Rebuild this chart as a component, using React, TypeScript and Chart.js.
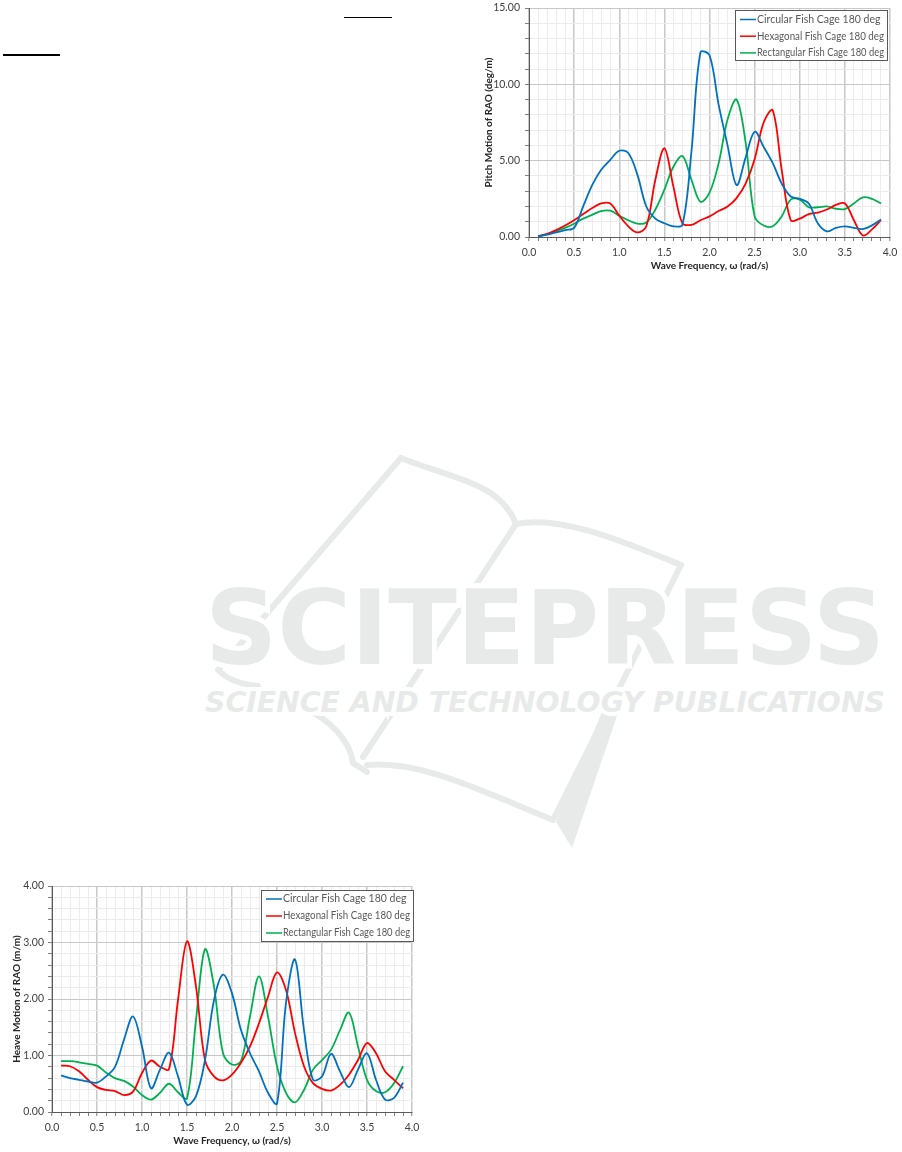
import React, { useEffect, useRef } from "react";
import { Chart, registerables } from "chart.js";

Chart.register(...registerables);

// ---------------- DATA ----------------
const freq = [
  0.1, 0.2, 0.3, 0.4, 0.5, 0.6, 0.7, 0.8, 0.9, 1.0,
  1.1, 1.2, 1.3, 1.4, 1.5, 1.6, 1.7, 1.8, 1.9, 2.0,
  2.1, 2.2, 2.3, 2.4, 2.5, 2.6, 2.7, 2.8, 2.9, 3.0,
  3.1, 3.2, 3.3, 3.4, 3.5, 3.6, 3.7, 3.8, 3.9,
];

const seriesLabels = [
  "Circular Fish Cage 180 deg",
  "Hexagonal Fish Cage 180 deg",
  "Rectangular Fish Cage 180 deg",
];

// Pitch motion RAO (deg/m)
const pitchCircular = [
  0.05, 0.15, 0.3, 0.45, 0.6, 2.0, 3.4, 4.4, 5.05, 5.65,
  5.5, 4.1, 2.0, 1.2, 0.9, 0.7, 0.8, 5.6, 12.1, 11.9,
  8.7, 6.0, 3.4, 5.2, 6.9, 5.9, 4.85, 3.5, 2.65, 2.5,
  2.2, 0.9, 0.37, 0.6, 0.7, 0.6, 0.52, 0.76, 1.15,
];
const pitchHexagonal = [
  0.05, 0.2, 0.45, 0.75, 1.1, 1.5, 1.9, 2.2, 2.2, 1.4,
  0.7, 0.3, 0.7, 3.75, 5.8, 3.3, 0.9, 0.8, 1.1, 1.35,
  1.7, 2.0, 2.55, 3.5, 5.1, 7.5, 8.3, 4.4, 1.1, 1.2,
  1.5, 1.6, 1.8, 2.1, 2.2, 1.1, 0.1, 0.5, 1.1,
];
const pitchRectangular = [
  0.05, 0.18, 0.38, 0.6, 0.87, 1.2, 1.45, 1.7, 1.72, 1.4,
  1.1, 0.87, 0.95, 1.8, 3.1, 4.6, 5.3, 3.75, 2.3, 2.9,
  4.8, 7.7, 9.0, 6.2, 1.35, 0.75, 0.7, 1.35, 2.45, 2.45,
  1.95, 1.95, 2.0, 1.85, 1.83, 2.2, 2.6, 2.5, 2.2,
];

// Heave motion RAO (m/m)
const heaveCircular = [
  0.65, 0.6, 0.57, 0.54, 0.52, 0.63, 0.8, 1.28, 1.69, 1.16,
  0.42, 0.75, 1.05, 0.63, 0.13, 0.28, 0.92, 1.98, 2.43, 2.1,
  1.45, 1.04, 0.72, 0.34, 0.15, 1.93, 2.7, 1.45, 0.57, 0.63,
  1.03, 0.72, 0.44, 0.75, 1.04, 0.57, 0.22, 0.25, 0.52,
];
const heaveHexagonal = [
  0.82, 0.81, 0.72, 0.57, 0.44, 0.39, 0.37, 0.3, 0.36, 0.69,
  0.91, 0.8, 0.76, 1.98, 3.02, 2.22, 0.92, 0.63, 0.56, 0.66,
  0.87, 1.16, 1.57, 2.04, 2.47, 2.16, 1.4, 0.81, 0.51, 0.41,
  0.38, 0.48, 0.66, 0.92, 1.22, 1.04, 0.72, 0.57, 0.42,
];
const heaveRectangular = [
  0.9, 0.9, 0.88, 0.85, 0.82, 0.7, 0.6, 0.55, 0.45, 0.3,
  0.22, 0.34, 0.5, 0.35, 0.24, 1.63, 2.88, 2.22, 1.04, 0.84,
  0.9, 1.69, 2.4, 1.69, 0.81, 0.34, 0.17, 0.39, 0.75, 0.92,
  1.1, 1.45, 1.76, 1.16, 0.57, 0.37, 0.35, 0.51, 0.81,
];

// axis ranges / tick settings
const xMin = 0;
const xMax = 4;
const xMinorStep = 0.1;
const xMajorStep = 0.5;
const pitchYMax = 15;
const pitchYMinorStep = 1;
const pitchYMajorStep = 5;
const heaveYMax = 4;
const heaveYMinorStep = 0.2;
const heaveYMajorStep = 1;

// ---------------- STYLES ----------------
const seriesColors = ["#0070C0", "#FF0000", "#00B050"];
const FONT = "Lato, 'Open Sans', 'DejaVu Sans', sans-serif";

const isMultiple = (v: number, step: number) => {
  const r = v / step;
  return Math.abs(r - Math.round(r)) < 1e-6;
};

const boxLegend = {
  id: "boxLegend",
  afterDraw(chart: any, _args: any, opts: any) {
    if (!opts || !opts.width) return;
    const { ctx, chartArea } = chart;
    const w = opts.width;
    const h = opts.height;
    const x = Math.round(chartArea.right + opts.dx - w);
    const y = Math.round(chartArea.top + opts.dy);
    ctx.save();
    ctx.fillStyle = "#ffffff";
    ctx.fillRect(x, y, w, h);
    ctx.strokeStyle = "#595959";
    ctx.lineWidth = 1;
    ctx.strokeRect(x + 0.5, y + 0.5, w - 1, h - 1);
    chart.data.datasets.forEach((ds: any, i: number) => {
      const cy = y + opts.firstRow + i * opts.rowGap;
      ctx.strokeStyle = ds.borderColor;
      ctx.lineWidth = 1.5;
      ctx.beginPath();
      ctx.moveTo(x + 5, cy);
      ctx.lineTo(x + 21, cy);
      ctx.stroke();
      ctx.fillStyle = "#595959";
      ctx.font = `10.5px ${FONT}`;
      ctx.textBaseline = "middle";
      ctx.textAlign = "left";
      ctx.fillText(ds.label, x + 22, cy, w - 26);
    });
    ctx.restore();
  },
};

type ChartSpec = {
  values: number[][];
  yMax: number;
  yMinor: number;
  yMajor: number;
  yTitle: string;
  pad: { top: number; right: number; left: number; bottom: number };
  yWidth: number;
  xHeight: number;
  yTickPad: number;
  xTickPad: number;
  yTitlePad: number;
  xTitlePad: number;
  legend: any;
};

function buildConfig(spec: ChartSpec): any {
  const datasets = spec.values.map((vals, i) => ({
    label: seriesLabels[i],
    data: freq.map((f, j) => ({ x: f, y: vals[j] })),
    borderColor: seriesColors[i],
    backgroundColor: seriesColors[i],
    borderWidth: 1.8,
    pointRadius: 0,
    tension: 0.35,
    fill: false,
  }));
  return {
    type: "line",
    data: { datasets },
    options: {
      animation: false,
      responsive: false,
      maintainAspectRatio: false,
      layout: { padding: spec.pad },
      plugins: {
        legend: { display: false },
        tooltip: { enabled: false },
        boxLegend: spec.legend,
      },
      scales: {
        x: {
          type: "linear",
          min: xMin,
          max: xMax,
          ticks: {
            stepSize: xMinorStep,
            autoSkip: false,
            maxRotation: 0,
            minRotation: 0,
            padding: spec.xTickPad,
            color: "#404040",
            font: { family: FONT, size: 10.5 },
            callback: (v: number) => (isMultiple(v, xMajorStep) ? v.toFixed(1) : ""),
          },
          grid: {
            color: (c: any) =>
              c.tick && isMultiple(c.tick.value, xMajorStep) ? "#c8c8c8" : "#ececec",
            lineWidth: (c: any) =>
              c.tick && isMultiple(c.tick.value, xMajorStep) ? 1.5 : 1,
            tickColor: "#7f7f7f",
            tickLength: 4,
            tickWidth: 1,
          },
          border: { color: "#595959", width: 1 },
          title: {
            display: true,
            text: "Wave Frequency, ω (rad/s)",
            color: "#262626",
            font: { family: FONT, size: 10, weight: "bold" },
            padding: { top: 0, bottom: spec.xTitlePad },
          },
          afterFit: (scale: any) => {
            scale.height = spec.xHeight;
            scale.paddingLeft = 0;
            scale.paddingRight = 0;
          },
        },
        y: {
          type: "linear",
          min: 0,
          max: spec.yMax,
          ticks: {
            stepSize: spec.yMinor,
            autoSkip: false,
            padding: spec.yTickPad,
            color: "#404040",
            font: { family: FONT, size: 10.5 },
            callback: (v: number) => (isMultiple(v, spec.yMajor) ? v.toFixed(2) : ""),
          },
          grid: {
            color: (c: any) =>
              c.tick && isMultiple(c.tick.value, spec.yMajor) ? "#c8c8c8" : "#ececec",
            lineWidth: 1,
            tickColor: "#7f7f7f",
            tickLength: 4,
            tickWidth: 1,
          },
          border: { color: "#595959", width: 1 },
          title: {
            display: true,
            text: spec.yTitle,
            color: "#262626",
            font: { family: FONT, size: 10, weight: "bold" },
            padding: { top: spec.yTitlePad, bottom: 0 },
          },
          afterFit: (scale: any) => {
            scale.width = spec.yWidth;
            scale.paddingTop = 0;
            scale.paddingBottom = 0;
          },
        },
      },
    },
    plugins: [boxLegend],
  };
}

function ChartBox(props: {
  spec: ChartSpec;
  left: number;
  top: number;
  width: number;
  height: number;
}) {
  const ref = useRef<HTMLCanvasElement | null>(null);
  useEffect(() => {
    if (!ref.current) return;
    const chart = new Chart(ref.current, buildConfig(props.spec));
    return () => chart.destroy();
  }, []);
  return (
    <canvas
      ref={ref}
      width={props.width}
      height={props.height}
      style={{
        position: "absolute",
        left: props.left,
        top: props.top,
        width: props.width,
        height: props.height,
      }}
    />
  );
}

const pitchSpec: ChartSpec = {
  values: [pitchCircular, pitchHexagonal, pitchRectangular],
  yMax: pitchYMax,
  yMinor: pitchYMinorStep,
  yMajor: pitchYMajorStep,
  yTitle: "Pitch Motion of RAO (deg/m)",
  pad: { top: 8, right: 8, left: 0, bottom: 0 },
  yWidth: 51,
  xHeight: 38,
  yTickPad: 5,
  xTickPad: 5,
  yTitlePad: 5,
  xTitlePad: 3,
  legend: { width: 153, height: 51, dx: -2, dy: 2, firstRow: 9.5, rowGap: 16.7 },
};

const heaveSpec: ChartSpec = {
  values: [heaveCircular, heaveHexagonal, heaveRectangular],
  yMax: heaveYMax,
  yMinor: heaveYMinorStep,
  yMajor: heaveYMajorStep,
  yTitle: "Heave Motion of RAO (m/m)",
  pad: { top: 8, right: 18, left: 0, bottom: 0 },
  yWidth: 52,
  xHeight: 40,
  yTickPad: 4,
  xTickPad: 5,
  yTitlePad: 11,
  xTitlePad: 5,
  legend: { width: 153, height: 52, dx: 2, dy: 4, firstRow: 9, rowGap: 17 },
};

const WM = "#e8eaea";

function Watermark() {
  return (
    <svg
      width={902}
      height={1152}
      style={{ position: "absolute", left: 0, top: 0, pointerEvents: "none" }}
    >
      <g fill="none" stroke={WM} strokeWidth={6} strokeLinecap="round" strokeLinejoin="round">
        <path d="M 401 458 L 218 670 C 228 680 240 684 258 686" />
        <path d="M 401 458 C 450 478 500 482 516 524" />
        <path d="M 516 524 C 560 515 620 540 681 565" />
        <path d="M 516 524 L 363 757" />
        <path d="M 681 565 L 553 820" />
        <path d="M 303 707 C 330 720 350 740 353 763 L 367 772" />
        <path d="M 367 765 C 420 760 480 790 553 820" />
      </g>
      <polygon points="604,707 620,707 572,848 556,822" fill={WM} />
      <text
        x={205}
        y={664}
        textLength={680}
        lengthAdjust="spacingAndGlyphs"
        fontFamily="'DejaVu Sans', sans-serif"
        fontWeight="bold"
        fontSize={104}
        fill={WM}
        stroke="#ffffff"
        strokeWidth={10}
        paintOrder="stroke"
      >
        SCITEPRESS
      </text>
      <text
        x={205}
        y={712}
        textLength={680}
        lengthAdjust="spacingAndGlyphs"
        fontFamily="'DejaVu Sans', sans-serif"
        fontWeight="bold"
        fontStyle="italic"
        fontSize={29}
        fill={WM}
        stroke="#ffffff"
        strokeWidth={8}
        paintOrder="stroke"
      >
        SCIENCE AND TECHNOLOGY PUBLICATIONS
      </text>
    </svg>
  );
}

export default function App() {
  return (
    <div
      style={{
        position: "absolute",
        left: 0,
        top: 0,
        width: 902,
        height: 1152,
        background: "#ffffff",
        overflow: "hidden",
      }}
    >
      <Watermark />
      <div style={{ position: "absolute", left: 3, top: 54, width: 57, height: 2, background: "#000" }} />
      <div style={{ position: "absolute", left: 344, top: 17, width: 48, height: 1, background: "#000" }} />
      <ChartBox spec={pitchSpec} left={478} top={0} width={420} height={275} />
      <ChartBox spec={heaveSpec} left={0} top={878} width={430} height={274} />
    </div>
  );
}
